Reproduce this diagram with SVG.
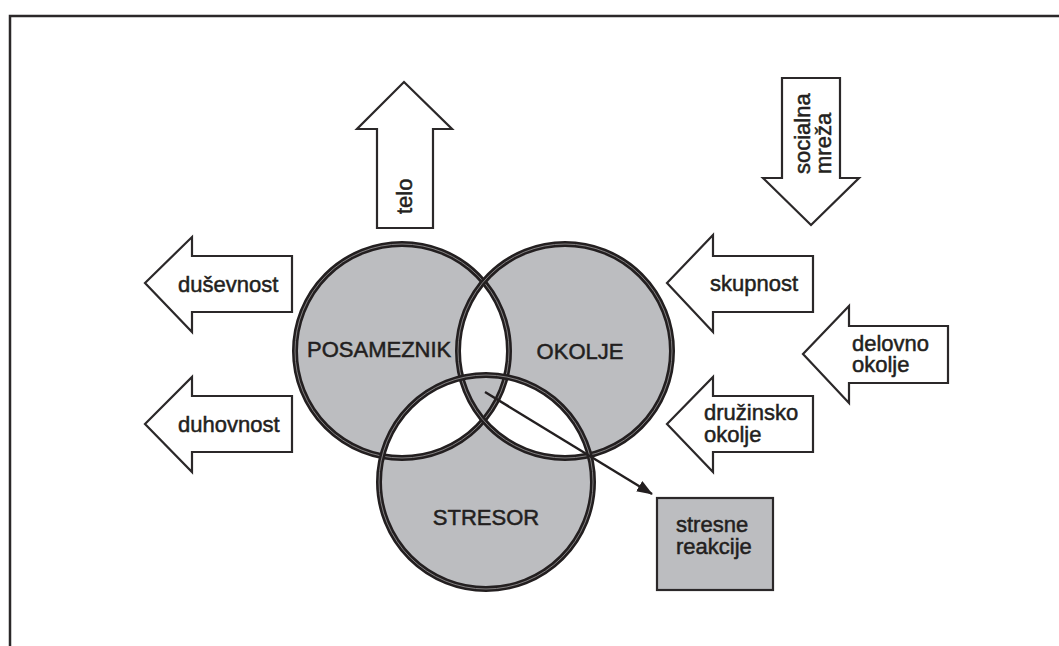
<svg xmlns="http://www.w3.org/2000/svg" width="1059" height="646" viewBox="0 0 1059 646">
<style>
.t{font-family:"Liberation Sans",Arial,sans-serif;font-size:22px;fill:#231f20;stroke:#231f20;stroke-width:0.5}
.ar{fill:#fff;stroke:#2b2829;stroke-width:2.2;stroke-linejoin:miter}
.c{fill:none;stroke:#231f20;stroke-width:6}
.ci{fill:none;stroke:#8d8b8c;stroke-width:0.9}
</style>
<defs>
<marker id="ah" markerWidth="16" markerHeight="12" refX="15" refY="6" orient="auto" markerUnits="userSpaceOnUse">
<path d="M0,0 L16,6 L0,12 Z" fill="#231f20"/>
</marker>
</defs>
<rect x="0" y="0" width="1059" height="646" fill="#fff"/>
<rect x="10" y="16" width="1070" height="660" fill="none" stroke="#2b2829" stroke-width="2.5"/>

<g id="venn-fill">
<path fill="#bcbdc0" fill-rule="evenodd" d="M295,351 a107,107 0 1,0 214,0 a107,107 0 1,0 -214,0 Z M458,351 a107,107 0 1,0 214,0 a107,107 0 1,0 -214,0 Z M379,482 a107,107 0 1,0 214,0 a107,107 0 1,0 -214,0 Z"/>
</g>
<g id="posameznik">
<circle class="c" cx="402" cy="351" r="107"/><circle class="ci" cx="402" cy="351" r="107"/>
<text class="t" x="307" y="357">POSAMEZNIK</text>
</g>
<g id="okolje">
<circle class="c" cx="565" cy="351" r="107"/><circle class="ci" cx="565" cy="351" r="107"/>
<text class="t" x="580" y="359" text-anchor="middle">OKOLJE</text>
</g>
<g id="stresor">
<circle class="c" cx="486" cy="482" r="107"/><circle class="ci" cx="486" cy="482" r="107"/>
<text class="t" x="486" y="525" text-anchor="middle">STRESOR</text>
</g>

<g id="reakcije">
<rect x="657" y="498" width="116" height="92" fill="#bcbdc0" stroke="#2b2829" stroke-width="2.2"/>
<text class="t" x="676" y="532">stresne</text>
<text class="t" x="676" y="554">reakcije</text>
</g>

<g id="connectors">
<line x1="485" y1="392" x2="652" y2="494" stroke="#231f20" stroke-width="2.4" marker-end="url(#ah)"/>
</g>

<g id="telo">
<path class="ar" d="M404,82 L452,129 L433,129 L433,228 L377,228 L377,129 L357,129 Z"/>
<text class="t" transform="translate(412,214) rotate(-90)">telo</text>
</g>
<g id="socialna-mreza">
<path class="ar" d="M782,78 L840,78 L840,178 L859,178 L811,225 L763,178 L782,178 Z"/>
<text class="t" transform="translate(810,174) rotate(-90)">socialna</text>
<text class="t" transform="translate(831,174) rotate(-90)">mreža</text>
</g>
<g id="dusevnost">
<path class="ar" d="M145,283 L192,237 L192,256 L292,256 L292,312 L192,312 L192,332 Z"/>
<text class="t" x="178" y="292">duševnost</text>
</g>
<g id="duhovnost">
<path class="ar" d="M145,424 L192,377 L192,396 L292,396 L292,452 L192,452 L192,472 Z"/>
<text class="t" x="178" y="432">duhovnost</text>
</g>
<g id="skupnost">
<path class="ar" d="M667,283 L713,235 L713,256 L813,256 L813,312 L713,312 L713,332 Z"/>
<text class="t" x="710" y="291">skupnost</text>
</g>
<g id="delovno-okolje">
<path class="ar" d="M803,354 L849,306 L849,326 L948,326 L948,383 L849,383 L849,403 Z"/>
<text class="t" x="852" y="351">delovno</text>
<text class="t" x="852" y="372">okolje</text>
</g>
<g id="druzinsko-okolje">
<path class="ar" d="M667,424 L713,377 L713,396 L813,396 L813,452 L713,452 L713,472 Z"/>
<text class="t" x="704" y="420">družinsko</text>
<text class="t" x="704" y="442">okolje</text>
</g>
</svg>
